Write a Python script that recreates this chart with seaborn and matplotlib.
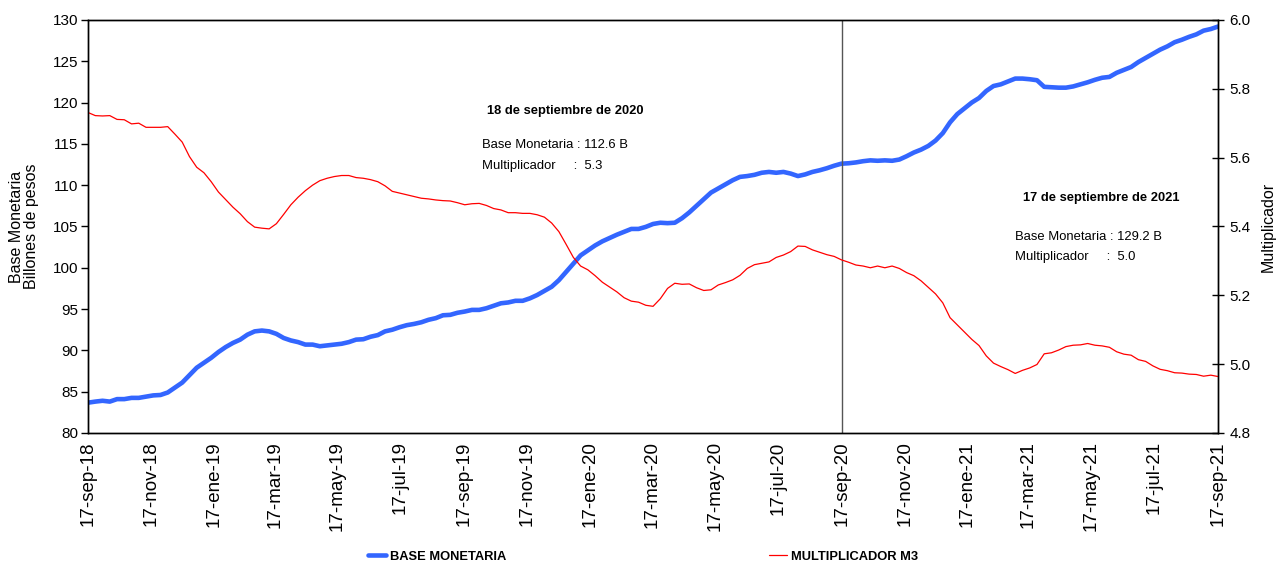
import seaborn as sns
import pandas as pd
import numpy as np
from matplotlib import pyplot as plt

# weekly series, 17-sep-18 .. 17-sep-21 (157 obs)
base_monetaria = [
    83.67, 83.8, 83.9, 83.8, 84.1, 84.1, 84.25, 84.25, 84.4, 84.55,
    84.6, 84.9, 85.5, 86.1, 87.0, 87.9, 88.5, 89.1, 89.8, 90.4,
    90.9, 91.3, 91.9, 92.3, 92.4, 92.3, 92.0, 91.5, 91.2, 91.0,
    90.7, 90.7, 90.5, 90.6, 90.7, 90.8, 91.0, 91.3, 91.35, 91.65,
    91.85, 92.3, 92.5, 92.8, 93.05, 93.2, 93.4, 93.7, 93.9, 94.25,
    94.3, 94.55, 94.7, 94.9, 94.9, 95.1, 95.4, 95.7, 95.8, 96.0,
    96.0, 96.3, 96.7, 97.2, 97.7, 98.5, 99.5, 100.5, 101.5, 102.1,
    102.7, 103.2, 103.6, 104.0, 104.35, 104.7, 104.7, 104.95, 105.3, 105.45,
    105.4, 105.45, 106.0, 106.7, 107.5, 108.3, 109.1, 109.6, 110.1, 110.6,
    111.0, 111.1, 111.25, 111.5, 111.6, 111.5, 111.6, 111.4, 111.1, 111.3,
    111.6, 111.8, 112.05, 112.35, 112.6, 112.65, 112.75, 112.9, 113.0, 112.95,
    113.0, 112.95, 113.1, 113.5, 113.95, 114.3, 114.75, 115.4, 116.3, 117.6,
    118.6, 119.3, 120.0, 120.55, 121.4, 122.0, 122.2, 122.55, 122.9, 122.9,
    122.82, 122.7, 121.9, 121.85, 121.8, 121.8, 121.95, 122.2, 122.45, 122.75,
    123.0, 123.1, 123.6, 123.95, 124.3, 124.9, 125.4, 125.9, 126.4, 126.8,
    127.3, 127.6, 127.95, 128.25, 128.7, 128.9, 129.2,
]
multiplicador = [
    5.731, 5.722, 5.721, 5.722, 5.711, 5.710, 5.698, 5.700, 5.688, 5.688,
    5.688, 5.690, 5.668, 5.645, 5.603, 5.572, 5.556, 5.530, 5.500, 5.478,
    5.456, 5.437, 5.414, 5.398, 5.395, 5.393, 5.408, 5.435, 5.463, 5.485,
    5.504, 5.520, 5.533, 5.540, 5.545, 5.548, 5.548, 5.542, 5.540, 5.536,
    5.530, 5.518, 5.502, 5.497, 5.492, 5.487, 5.482, 5.480, 5.477, 5.475,
    5.474, 5.469, 5.463, 5.466, 5.467, 5.461, 5.452, 5.448, 5.440, 5.440,
    5.438, 5.438, 5.434, 5.427, 5.410, 5.385, 5.348, 5.310, 5.285, 5.274,
    5.257, 5.238, 5.224, 5.210, 5.193, 5.183, 5.180, 5.171, 5.168, 5.190,
    5.220, 5.235, 5.232, 5.233, 5.222, 5.214, 5.216, 5.230, 5.237, 5.245,
    5.258, 5.278, 5.289, 5.293, 5.297, 5.310, 5.317, 5.327, 5.343, 5.342,
    5.332, 5.325, 5.318, 5.313, 5.303, 5.296, 5.288, 5.285, 5.280, 5.285,
    5.280, 5.285, 5.278, 5.266, 5.257, 5.242, 5.223, 5.204, 5.178, 5.135,
    5.114, 5.093, 5.072, 5.054, 5.024, 5.003, 4.993, 4.984, 4.973, 4.982,
    4.989, 4.999, 5.030, 5.033, 5.041, 5.051, 5.055, 5.056, 5.060, 5.055,
    5.053, 5.049, 5.036, 5.029, 5.026, 5.013, 5.008, 4.995, 4.985, 4.981,
    4.975, 4.974, 4.971, 4.970, 4.965, 4.968, 4.964,
]
meses = ["ene", "feb", "mar", "abr", "may", "jun", "jul", "ago", "sep", "oct", "nov", "dic"]

fechas = pd.date_range("2018-09-17", "2021-09-17", periods=len(base_monetaria))
df = pd.DataFrame({"fecha": fechas, "base": base_monetaria, "mult": multiplicador})

sns.set_style("white")
plt.rcParams["font.family"] = ["Liberation Sans", "DejaVu Sans"]
plt.rcParams.update({"text.color": "black", "axes.labelcolor": "black",
                     "xtick.color": "black", "ytick.color": "black"})

fig = plt.figure(figsize=(12.78, 5.66), dpi=100)
ax = fig.add_axes([0.0689, 0.235, 0.8842, 0.7298])
ax2 = ax.twinx()

sns.lineplot(data=df, x="fecha", y="base", ax=ax, color="#3366ff", linewidth=3.3)
sns.lineplot(data=df, x="fecha", y="mult", ax=ax2, color="#ff0000", linewidth=0.9)

ax.axvline(pd.Timestamp("2020-09-17"), color="#555555", linewidth=1.0)

ax.set_xlim(pd.Timestamp("2018-09-17"), pd.Timestamp("2021-09-17"))
ax.set_ylim(80, 130)
ax2.set_ylim(4.8, 6.0)
ax.set_yticks(np.arange(80, 131, 5))
ax2.set_yticks(np.arange(4.8, 6.01, 0.2))
ax2.set_yticklabels([f"{v:.1f}" for v in np.arange(4.8, 6.01, 0.2)])

ticks = pd.date_range("2018-09-01", "2021-09-01", freq="2MS") + pd.Timedelta(days=16)
ax.set_xticks(ticks)
ax.set_xticklabels([f"17-{meses[t.month - 1]}-{t.year % 100:02d}" for t in ticks],
                   rotation=90, fontsize=13.5, va="top", ha="center")

for a in (ax, ax2):
    for s in a.spines.values():
        s.set_color("black")
        s.set_linewidth(1.0)
ax.tick_params(axis="x", direction="out", length=5, width=1, color="black", pad=1,
               labelcolor="black")
ax.tick_params(axis="y", direction="out", length=5, width=1, color="black", pad=2,
               labelsize=11, labelcolor="black")
ax2.tick_params(axis="y", direction="inout", length=8, width=1, color="black", pad=4,
                labelsize=11, labelcolor="black")

ax.set_xlabel("")
ax.set_ylabel("Base Monetaria\nBillones de pesos", fontsize=11.5, linespacing=1.0)
ax.yaxis.set_label_coords(-0.043, 0.5)
ax2.set_ylabel("Multiplicador", fontsize=11.5)
ax2.yaxis.set_label_coords(1.038, 0.5)

# annotations
ann = dict(transform=ax.transAxes, va="baseline", color="black")
ax.text(0.353, 0.773, "18 de septiembre de 2020", fontweight="bold", fontsize=9.3, **ann)
ax.text(0.349, 0.690, "Base Monetaria : 112.6 B", fontsize=9.4, **ann)
ax.text(0.349, 0.640, "Multiplicador     :  5.3", fontsize=9.4, **ann)
ax.text(0.827, 0.562, "17 de septiembre de 2021", fontweight="bold", fontsize=9.3, **ann)
ax.text(0.820, 0.468, "Base Monetaria : 129.2 B", fontsize=9.4, **ann)
ax.text(0.820, 0.418, "Multiplicador     :  5.0", fontsize=9.4, **ann)

# legend
h1 = plt.Line2D([], [], color="#3366ff", linewidth=3.3)
h2 = plt.Line2D([], [], color="#ff0000", linewidth=0.9)
fig.legend([h1], ["BASE MONETARIA"], loc="center", bbox_to_anchor=(0.342, 0.016),
           frameon=False, handlelength=1.4, handletextpad=0.3,
           prop={"weight": "bold", "size": 9.3}, labelcolor="black")
fig.legend([h2], ["MULTIPLICADOR M3"], loc="center", bbox_to_anchor=(0.66, 0.016),
           frameon=False, handlelength=1.4, handletextpad=0.3,
           prop={"weight": "bold", "size": 9.3}, labelcolor="black")

fig.savefig("out.png", dpi=100)
